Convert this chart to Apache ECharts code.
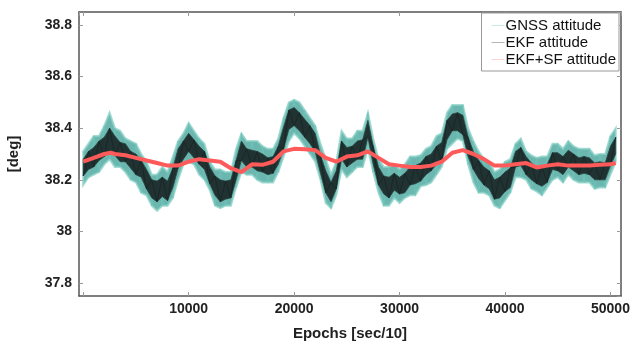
<!DOCTYPE html>
<html>
<head>
<meta charset="utf-8">
<script src="https://cdn.jsdelivr.net/npm/echarts@6/dist/echarts.min.js"></script>
<style>
html,body{margin:0;padding:0;background:#fff;}
#chart{width:632px;height:344px;}
</style>
</head>
<body>
<div id="chart"></div>
<script>
// Epochs [sec/10]
const epochs = [0,500,1000,1500,2000,2500,3000,3500,4000,4500,
5000,5500,6000,6500,7000,7500,8000,8500,9000,9500,
10000,10500,11000,11500,12000,12500,13000,13500,14000,14500,
15000,15500,16000,16500,17000,17500,18000,18500,19000,19500,
20000,20500,21000,21500,22000,22500,23000,23500,24000,24500,
25000,25500,26000,26500,27000,27500,28000,28500,29000,29500,
30000,30500,31000,31500,32000,32500,33000,33500,34000,34500,
35000,35500,36000,36500,37000,37500,38000,38500,39000,39500,
40000,40500,41000,41500,42000,42500,43000,43500,44000,44500,
45000,45500,46000,46500,47000,47500,48000,48500,49000,49500,
50000,50500];
// EKF attitude trend (deg)
const ekfCenter = [38.25,38.27,38.29,38.31,38.32,38.35,38.33,38.31,38.30,38.28,
38.26,38.24,38.20,38.17,38.16,38.17,38.16,38.20,38.28,38.32,
38.34,38.32,38.30,38.27,38.22,38.18,38.16,38.16,38.17,38.23,
38.31,38.29,38.28,38.27,38.27,38.25,38.26,38.29,38.36,38.43,
38.45,38.42,38.40,38.38,38.34,38.26,38.19,38.16,38.20,38.31,
38.29,38.30,38.31,38.32,38.40,38.29,38.22,38.18,38.17,38.19,
38.18,38.19,38.21,38.22,38.235,38.25,38.27,38.29,38.31,38.39,
38.42,38.43,38.41,38.33,38.27,38.24,38.22,38.20,38.17,38.17,
38.19,38.21,38.28,38.29,38.26,38.235,38.215,38.21,38.23,38.27,
38.27,38.26,38.28,38.27,38.25,38.26,38.25,38.235,38.24,38.23,
38.29,38.33];
// GNSS scatter above / below the trend (deg)
const gnssUp = [0.06,0.07,0.08,0.06,0.09,0.11,0.07,0.08,0.06,0.07,
0.08,0.06,0.07,0.05,0.06,0.08,0.07,0.09,0.07,0.06,
0.08,0.07,0.06,0.07,0.05,0.06,0.08,0.07,0.06,0.09,
0.07,0.06,0.07,0.08,0.06,0.07,0.06,0.07,0.08,0.07,
0.06,0.08,0.07,0.06,0.07,0.08,0.09,0.06,0.07,0.08,
0.07,0.06,0.08,0.07,0.06,0.07,0.06,0.07,0.08,0.07,
0.06,0.07,0.08,0.07,0.06,0.07,0.06,0.08,0.07,0.07,
0.07,0.06,0.08,0.07,0.08,0.07,0.06,0.07,0.06,0.07,
0.08,0.07,0.06,0.07,0.05,0.06,0.07,0.08,0.06,0.07,
0.07,0.06,0.07,0.06,0.07,0.06,0.07,0.06,0.06,0.07,
0.08,0.07];
const gnssDn = [0.07,0.06,0.07,0.08,0.06,0.07,0.08,0.06,0.07,0.08,
0.07,0.09,0.06,0.07,0.08,0.07,0.06,0.07,0.08,0.06,
0.07,0.06,0.08,0.07,0.06,0.08,0.07,0.06,0.07,0.06,
0.08,0.07,0.06,0.07,0.08,0.06,0.07,0.06,0.07,0.08,
0.07,0.06,0.07,0.08,0.07,0.06,0.08,0.07,0.06,0.07,
0.08,0.07,0.06,0.07,0.08,0.06,0.07,0.08,0.07,0.06,
0.07,0.06,0.07,0.08,0.06,0.07,0.08,0.07,0.06,0.07,
0.08,0.07,0.06,0.07,0.08,0.09,0.07,0.06,0.07,0.08,
0.07,0.06,0.07,0.08,0.06,0.07,0.06,0.07,0.06,0.07,
0.06,0.07,0.06,0.07,0.06,0.07,0.06,0.07,0.07,0.06,
0.07,0.06];
// EKF scatter above / below the trend (deg)
const ekfUp = [0.03,0.04,0.035,0.04,0.045,0.05,0.04,0.035,0.04,0.03,
0.04,0.035,0.04,0.03,0.035,0.04,0.035,0.045,0.04,0.03,
0.04,0.035,0.03,0.04,0.03,0.035,0.04,0.035,0.03,0.045,
0.04,0.03,0.035,0.04,0.03,0.035,0.03,0.04,0.045,0.04,
0.03,0.04,0.035,0.03,0.04,0.035,0.045,0.03,0.035,0.04,
0.035,0.03,0.04,0.035,0.03,0.04,0.03,0.035,0.04,0.035,
0.03,0.035,0.04,0.035,0.03,0.04,0.03,0.04,0.035,0.04,
0.035,0.03,0.04,0.035,0.04,0.035,0.03,0.035,0.03,0.04,
0.04,0.035,0.03,0.035,0.03,0.03,0.035,0.04,0.03,0.035,
0.035,0.03,0.035,0.03,0.035,0.03,0.035,0.03,0.03,0.035,
0.04,0.035];
const ekfDn = [0.035,0.03,0.04,0.035,0.03,0.04,0.035,0.04,0.03,0.035,
0.04,0.03,0.035,0.04,0.045,0.035,0.04,0.03,0.035,0.04,
0.03,0.035,0.04,0.03,0.035,0.04,0.045,0.035,0.04,0.03,
0.035,0.04,0.03,0.035,0.04,0.03,0.035,0.03,0.04,0.035,
0.04,0.03,0.035,0.04,0.03,0.035,0.04,0.045,0.035,0.03,
0.04,0.035,0.03,0.04,0.035,0.03,0.04,0.035,0.04,0.03,
0.035,0.04,0.03,0.035,0.04,0.03,0.035,0.03,0.04,0.035,
0.03,0.04,0.035,0.04,0.03,0.035,0.04,0.035,0.045,0.04,
0.035,0.04,0.03,0.035,0.04,0.035,0.03,0.035,0.04,0.03,
0.035,0.04,0.03,0.035,0.03,0.035,0.03,0.035,0.04,0.03,
0.035,0.03];
// EKF+SF attitude (deg)
const sfEpochs = [0,1000,2000,2600,3000,4000,5000,6000,7000,8000,
9000,10000,11000,12000,13000,14000,15000,16000,17000,18000,
19000,20000,21000,22000,23000,24000,25000,26000,27000,28000,
29000,30000,31000,32000,33000,34000,35000,36000,37000,38000,
39000,40000,41000,42000,43000,44000,45000,46000,47000,48000,
49000,50000,50500];
const sfValues = [38.27,38.285,38.30,38.305,38.30,38.295,38.285,38.275,38.265,38.255,
38.255,38.27,38.28,38.275,38.27,38.245,38.23,38.26,38.258,38.27,
38.31,38.32,38.318,38.315,38.285,38.27,38.29,38.295,38.31,38.285,
38.26,38.255,38.25,38.25,38.255,38.27,38.305,38.315,38.30,38.28,
38.255,38.255,38.26,38.265,38.248,38.255,38.26,38.255,38.255,38.255,
38.258,38.26,38.265];

const xTickLabels = ['10000','20000','30000','40000','50000'];
const yTickLabels = ['37.8','38','38.2','38.4','38.6','38.8'];

// band tables [epoch, low, high]
const gnssBand = epochs.map((e,i)=>[e, ekfCenter[i]-gnssDn[i], ekfCenter[i]+gnssUp[i]]);
const ekfBand = epochs.map((e,i)=>[e, ekfCenter[i]-ekfDn[i], ekfCenter[i]+ekfUp[i]]);
// zig-zag through the band extremes (samples alternate high / low)
const gnssZig = gnssBand.map((r,i)=>[r[0], i%2 ? r[1] : r[2]]);
const ekfZig = ekfBand.map((r,i)=>[r[0], i%2 ? r[2] : r[1]]);
const sfData = sfEpochs.map((e,i)=>[e, sfValues[i]]);

function bandRenderer(table, fill, stroke, lw){
  return function(params, api){
    if (params.dataIndex !== 0) return null;
    const top = table.map(r=>api.coord([r[0], r[2]]));
    const bot = table.map(r=>api.coord([r[0], r[1]])).reverse();
    return {
      type:'polygon',
      shape:{points: top.concat(bot)},
      style:{fill: fill, stroke: stroke, lineWidth: lw}
    };
  };
}

const FONT = 'Liberation Sans, Arial, sans-serif';
const chart = echarts.init(document.getElementById('chart'));
const lineIcon = 'path://M0,0 L30,0 L30,1 L0,1 Z';
chart.setOption({
  animation:false,
  backgroundColor:'#fff',
  grid:{left:79,right:11,top:12,bottom:48,containLabel:false,outerBoundsMode:'none'},
  legend:{
    orient:'vertical', right:13, top:13,
    backgroundColor:'#fff', borderColor:'#999', borderWidth:1,
    padding:[5,3,4,10], itemGap:2, itemWidth:13, itemHeight:1,
    textStyle:{fontFamily:FONT,fontSize:15,color:'#111',padding:[0,0,0,-4]},
    data:[
      {name:'GNSS attitude',icon:lineIcon,itemStyle:{color:'#7fd0c8'}},
      {name:'EKF attitude',icon:lineIcon,itemStyle:{color:'#555'}},
      {name:'EKF+SF attitude',icon:lineIcon,itemStyle:{color:'#ff9a9a'}}
    ]
  },
  xAxis:[{
    type:'value', min:-400, max:51000, position:'bottom',
    axisLine:{onZero:false,lineStyle:{color:'#555',width:1.5}},
    axisTick:{inside:true,length:4,lineStyle:{color:'#999'}},
    splitLine:{show:false},
    axisLabel:{showMinLabel:false,showMaxLabel:false,margin:6,fontFamily:FONT,fontWeight:'bold',fontSize:14,color:'#222',
      formatter:v=>{const s=String(v);return xTickLabels.indexOf(s)>=0?s:'';}},
    name:'Epochs [sec/10]', nameLocation:'middle', nameGap:30,
    nameTextStyle:{fontFamily:FONT,fontWeight:'bold',fontSize:15,color:'#222'}
  },{
    type:'value', min:-400, max:51000, position:'top',
    axisLine:{onZero:false,lineStyle:{color:'#555',width:1.5}},
    axisTick:{inside:true,length:4,lineStyle:{color:'#999'}},
    axisLabel:{show:false}, splitLine:{show:false}
  }],
  yAxis:[{
    type:'value', min:37.75, max:38.85, splitNumber:5, position:'left',
    axisLine:{show:true,onZero:false,lineStyle:{color:'#555',width:1.5}},
    axisTick:{show:true,inside:true,length:4,lineStyle:{color:'#999'}},
    splitLine:{show:false},
    axisLabel:{showMinLabel:false,showMaxLabel:false,margin:7,fontFamily:FONT,fontWeight:'bold',fontSize:14,color:'#222',
      formatter:v=>{const s=String(+v.toFixed(2));return yTickLabels.indexOf(s)>=0?s:'';}},
    name:'[deg]', nameLocation:'middle', nameGap:58, nameRotate:90,
    nameTextStyle:{fontFamily:FONT,fontWeight:'bold',fontSize:15,color:'#222'}
  },{
    type:'value', min:37.75, max:38.85, splitNumber:5, position:'right',
    axisLine:{show:true,onZero:false,lineStyle:{color:'#555',width:1.5}},
    axisTick:{show:true,inside:true,length:4,lineStyle:{color:'#999'}},
    axisLabel:{show:false}, splitLine:{show:false}
  }],
  series:[
    {name:'GNSS attitude',type:'custom',data:gnssBand,renderItem:bandRenderer(gnssBand,'rgba(70,165,155,0.8)','rgba(140,210,200,0.8)',2),
      encode:{x:0,y:[1,2]},silent:true,color:'#7fd0c8',clip:true,z:2},
    {name:'gnssZig',type:'line',data:gnssZig,symbol:'none',silent:true,
      lineStyle:{width:1,color:'rgba(110,195,185,0.9)'},z:2},
    {name:'EKF attitude',type:'custom',data:ekfBand,renderItem:bandRenderer(ekfBand,'rgba(28,42,42,0.95)','rgba(40,70,68,0.8)',1),
      encode:{x:0,y:[1,2]},silent:true,color:'#555',clip:true,z:3},
    {name:'ekfZig',type:'line',data:ekfZig,symbol:'none',silent:true,
      lineStyle:{width:1,color:'rgba(25,38,38,0.9)'},z:3},
    {name:'EKF+SF attitude',type:'line',data:sfData,symbol:'none',silent:true,
      color:'#ff9a9a',lineStyle:{width:4,color:'#ff5a5a'},z:4}
  ]
});
</script>
</body>
</html>
